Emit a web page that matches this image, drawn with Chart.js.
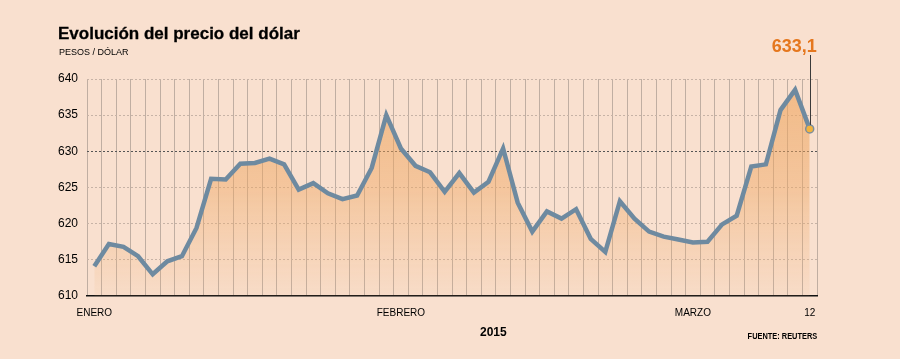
<!DOCTYPE html>
<html>
<head>
<meta charset="utf-8">
<script src="https://cdn.jsdelivr.net/npm/chart.js@4/dist/chart.umd.min.js"></script>
<style>
  html, body { margin: 0; padding: 0; background: #F9E0CF; }
  #wrap { position: relative; width: 900px; height: 359px; background: #F9E0CF; overflow: hidden; }
  canvas { position: absolute; left: 0; top: 0; }
  .t { position: absolute; white-space: nowrap; font-family: "Liberation Sans", Arial, sans-serif; color: #000; }
  #title { left: 58px; top: 25px; font-size: 17px; line-height: 17px; font-weight: bold; -webkit-text-stroke: 0.3px #000; }
  #sub { left: 59px; top: 48px; font-size: 9px; line-height: 9px; }
  #year { left: 480px; top: 326px; font-size: 12px; line-height: 12px; font-weight: bold; }
  #src { right: 83px; top: 331px; font-size: 9.5px; line-height: 10px; font-weight: bold; transform: scaleX(0.78); transform-origin: right center; }
</style>
</head>
<body>
<div id="wrap">
  <canvas id="c" width="900" height="359"></canvas>
  <div class="t" id="title">Evolución del precio del dólar</div>
  <div class="t" id="sub">PESOS / DÓLAR</div>
  <div class="t" id="year">2015</div>
  <div class="t" id="src">FUENTE: REUTERS</div>
</div>
<script>
// Daily closing values, 2 Jan - 12 Mar 2015 (business days)
const tickLabels = [
  'ENERO','','','','','','','','','',
  '','','','','','','','','','',
  '','FEBRERO','','','','','','','','',
  '','','','','','','','','','',
  '','MARZO','','','','','','','','12'
];
const values = [
  614.1, 617.2, 616.8, 615.5, 613.0, 614.8, 615.5, 619.4, 626.2, 626.1,
  628.3, 628.4, 629.0, 628.2, 624.7, 625.6, 624.2, 623.4, 623.9, 627.7,
  635.0, 630.4, 628.0, 627.1, 624.4, 627.0, 624.3, 625.8, 630.4, 622.9,
  618.9, 621.7, 620.7, 622.0, 617.9, 616.1, 623.1, 620.7, 618.9, 618.2,
  617.8, 617.4, 617.5, 619.9, 621.1, 627.9, 628.2, 635.7, 638.5, 633.1
];
const yTicks = [610, 615, 620, 625, 630, 635, 640];
const lastLabel = '633,1';

const lastIdx = values.length - 1;

const annotate = {
  id: 'annotate',
  afterDatasetsDraw(chart) {
    const meta = chart.getDatasetMeta(0);
    const pt = meta.data[lastIdx];
    const ctx = chart.ctx;
    ctx.save();
    ctx.strokeStyle = '#3a3a3a';
    ctx.lineWidth = 1;
    ctx.beginPath();
    ctx.moveTo(Math.round(pt.x) + 0.5, 55);
    ctx.lineTo(Math.round(pt.x) + 0.5, pt.y - 4);
    ctx.stroke();
    ctx.fillStyle = '#E5771E';
    ctx.font = 'bold 18px "Liberation Sans", Arial, sans-serif';
    ctx.textAlign = 'right';
    ctx.textBaseline = 'alphabetic';
    ctx.fillText(lastLabel, pt.x + 7, 52);
    ctx.restore();
  }
};

new Chart(document.getElementById('c'), {
  type: 'line',
  data: {
    labels: tickLabels,
    datasets: [{
      data: values,
      borderColor: '#6E8AA0',
      borderWidth: 4.5,
      tension: 0,
      borderJoinStyle: 'miter',
      fill: 'start',
      backgroundColor: (ctx) => {
        const ca = ctx.chart.chartArea;
        if (!ca) return 'rgba(240,170,110,0.4)';
        const g = ctx.chart.ctx.createLinearGradient(0, ca.top, 0, ca.bottom);
        g.addColorStop(0, 'rgba(238,165,95,0.65)');
        g.addColorStop(0.5, 'rgba(238,165,95,0.45)');
        g.addColorStop(1, 'rgba(240,175,115,0.08)');
        return g;
      },
      pointRadius: (c) => c.dataIndex === lastIdx ? 4 : 0,
      pointHoverRadius: (c) => c.dataIndex === lastIdx ? 4 : 0,
      pointBackgroundColor: '#F2B33D',
      pointBorderColor: '#7D8E9C',
      pointBorderWidth: 1.5
    }]
  },
  options: {
    responsive: false,
    animation: false,
    devicePixelRatio: 1,
    layout: { padding: { left: 0, right: 83, top: 79, bottom: 0 } },
    plugins: { legend: { display: false }, tooltip: { enabled: false } },
    scales: {
      x: {
        type: 'category',
        offset: true,
        afterFit: (s) => { s.height = 63; },
        grid: { display: true, offset: true, color: '#C0AEA2', lineWidth: 1, drawTicks: false },
        border: { display: true, color: '#111', width: 1.5 },
        ticks: {
          autoSkip: false, maxRotation: 0, minRotation: 0, padding: 11,
          color: '#000',
          font: { family: '"Liberation Sans", Arial, sans-serif', size: 10 }
        }
      },
      y: {
        min: 610, max: 640,
        afterFit: (s) => { s.width = 87; },
        afterBuildTicks: (s) => { s.ticks = yTicks.map(v => ({ value: v })); },
        grid: {
          drawTicks: false,
          color: (c) => {
            const v = c.tick && c.tick.value;
            if (v === 610) return 'rgba(0,0,0,0)';
            if (v === 630) return '#555';
            return '#C7B3A6';
          },
          lineWidth: 1
        },
        border: { display: false, dash: [2, 2] },
        ticks: {
          padding: 9,
          color: '#000',
          font: { family: '"Liberation Sans", Arial, sans-serif', size: 12 },
          callback: (v) => String(v)
        }
      }
    }
  },
  plugins: [annotate]
});
</script>
</body>
</html>
